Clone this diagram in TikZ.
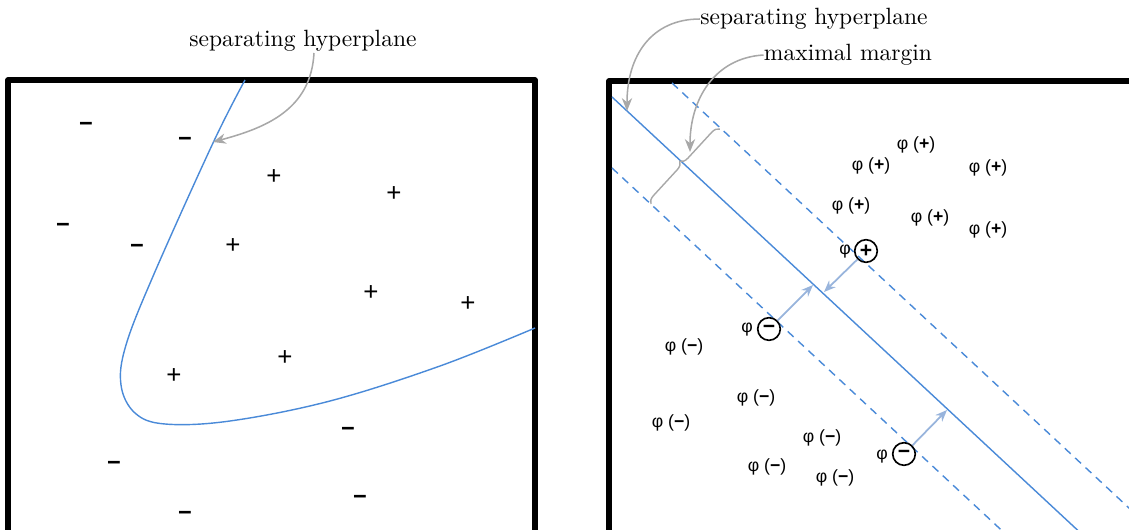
\documentclass[tikz,border=0pt]{standalone}
\usepackage{fontspec}
\newfontfamily\lsans{Liberation Sans}
\usetikzlibrary{decorations.pathreplacing,arrows.meta}
\definecolor{hblue}{HTML}{4A8AD8}
\definecolor{ablue}{HTML}{98B4DC}
\definecolor{agray}{HTML}{A8A8A8}
\tikzset{
  box/.style={line width=2.4pt, line join=round, line cap=round},
  hplane/.style={hblue, line width=0.6pt},
  mplane/.style={hblue, line width=0.6pt, dash pattern=on 3.4pt off 2.6pt},
  ga/.style={agray, line width=0.65pt, -{Stealth[length=5.5pt,width=4.4pt]}},
  ba/.style={ablue, line width=0.75pt, -{Stealth[length=5pt,width=4pt]}},
  mn/.style={font=\lsans\fontsize{10}{12}\selectfont\bfseries, inner sep=0pt},
  pl/.style={font=\lsans\fontsize{11}{12}\selectfont, inner sep=0pt},
  phl/.style={font=\lsans\fontsize{7.5}{9}\selectfont, inner sep=0pt},
  circ/.style={draw=black, circle, line width=0.7pt, minimum size=9.6pt, inner sep=0pt, font=\lsans\fontsize{9}{10}\selectfont\bfseries},
  lbl/.style={inner sep=0pt}
}
\begin{document}
\begin{tikzpicture}[x=0.425pt,y=-0.425pt]
\useasboundingbox (0,0) rectangle (1129,530);
\begin{scope}
\clip (0,0) rectangle (1129,530);
% boxes
\draw[box] (8,600) -- (8,80) -- (535,80) -- (535,600);
\draw[box] (609,600) -- (609,81) -- (1200,81);

% left panel
\draw[hplane] plot[smooth, tension=0.6] coordinates {(245,80) (213,143) (154,274) (126,345) (121,385) (135,413) (165,424) (230,421) (330,401) (440,366) (535,328)};
\foreach \n/\x/\y in {m1/86/127, m2/185/142, m3/63/228, m4/137/249, m5/348/432, m6/114/466, m7/360/500, m8/185/516}
  \node[mn] (\n) at (\x,\y) {−};
\foreach \n/\x/\y in {p1/274/177, p2/394/194, p3/233/246, p4/371/293, p5/468/304, p6/285/358, p7/174/376}
  \node[pl] (\n) at (\x,\y) {+};
\node[lbl] (sepL) at (303,41) {separating hyperplane};
\coordinate (hitL) at (213,142);
\draw[ga] (314,53) .. controls (311,110) and (265,128) .. (hitL);

% right panel
\draw[hplane] (612,97) -- (1172,618);
\draw[mplane] (672,83) -- (1172,548);
\draw[mplane] (612,168) -- (1012,540);
\draw[agray, line width=0.6pt, decorate, decoration={brace, amplitude=3.3pt}] (651,204) -- (720,129);

\node[lbl] (sepR) at (814,19) {separating hyperplane};
\node[lbl] (mm) at (848,55) {maximal margin};
\coordinate (hitR) at (627,111);
\coordinate (hitM) at (690,152);
\draw[ga] (sepR.west) .. controls (652,19) and (627,55) .. (hitR);
\draw[ga] (mm.west) .. controls (714,58) and (690,100) .. (hitM);

\foreach \n/\x/\y in {q1/871/166, q2/916/145, q3/851/206, q4/930/218, q5/988/168, q6/988/230}
  \node[phl] (\n) at (\x,\y) {φ (\textbf{+})};
\foreach \n/\x/\y in {r1/684/347, r2/671/423, r3/756/398, r4/767/467, r5/822/438, r6/835/478}
  \node[phl] (\n) at (\x,\y) {φ (\textbf{−})};

\node[phl] (f1) at (845,252) {φ};
\node[circ] (c1) at (866,251) {+};
\node[phl] (f2) at (747,330) {φ};
\node[circ] (c2) at (769,329) {−};
\node[phl] (f3) at (882,457) {φ};
\node[circ] (c3) at (904,454) {−};

\coordinate (t1) at (824,292);
\coordinate (t2) at (813,285);
\coordinate (t3) at (947,410);
\draw[ba] (c1) -- (t1);
\draw[ba] (c2) -- (t2);
\draw[ba] (c3) -- (t3);
\end{scope}
\end{tikzpicture}
\end{document}
